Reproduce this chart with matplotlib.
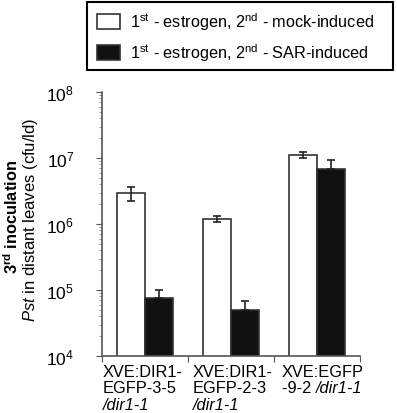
import numpy as np
import matplotlib
matplotlib.use("Agg")
import matplotlib.pyplot as plt
from matplotlib.patches import Patch, Rectangle

plt.rcParams['font.family'] = ['Liberation Sans', 'DejaVu Sans']
plt.rcParams['mathtext.fontset'] = 'custom'
plt.rcParams['mathtext.rm'] = 'Liberation Sans'
plt.rcParams['mathtext.it'] = 'Liberation Sans:italic'
plt.rcParams['mathtext.bf'] = 'Liberation Sans:bold'

# data (cfu/ld)
lines_ = ["XVE:DIR1-EGFP-3-5", "XVE:DIR1-EGFP-2-3", "XVE:EGFP-9-2"]
mock = [2.95e6, 1.19e6, 1.11e7]
mock_err = [0.7e6, 0.12e6, 1.2e6]
sar = [7.6e4, 5.0e4, 6.8e6]
sar_err = [2.4e4, 1.8e4, 2.5e6]
series_names = [r"1$^{\rm st}$ - estrogen, 2$^{\rm nd}$ - mock-induced",
                r"1$^{\rm st}$ - estrogen, 2$^{\rm nd}$ - SAR-induced"]

edge = "#333333"
fig = plt.figure(figsize=(3.97, 4.14), dpi=100)
ax = fig.add_axes([102/397, 57/414, 258/397, 264/414])

x = np.arange(len(lines_))
w = 0.33
ax.bar(x - w/2, mock, w, color="white", edgecolor=edge, linewidth=1.2, zorder=2)
ax.bar(x + w/2, sar, w, color="#111111", edgecolor=edge, linewidth=1.2, zorder=2)
ax.errorbar(x - w/2, mock, yerr=mock_err, fmt="none", ecolor="#222222",
            elinewidth=1.2, capsize=3, capthick=1.2, zorder=3)
ax.errorbar(x + w/2, sar, yerr=[np.zeros(3), sar_err], fmt="none", ecolor="#222222",
            elinewidth=1.2, capsize=3, capthick=1.2, zorder=3)

ax.set_yscale("log")
ax.set_ylim(1e4, 1e8)
ax.set_xlim(-0.5, 2.5)
ax.set_xticks([-0.5, 0.5, 1.5, 2.5])
ax.set_xticklabels([])

for s in ["top", "right"]:
    ax.spines[s].set_visible(False)
for s in ["left", "bottom"]:
    ax.spines[s].set_color("#555555")
    ax.spines[s].set_linewidth(1.2)
ax.tick_params(axis="y", which="major", length=4, color="#555555", labelsize=12.5, pad=16)
ax.tick_params(axis="y", which="minor", length=2, color="#888888")
ax.tick_params(axis="x", length=4, color="#555555")

# category labels, left aligned in each slot, one line at a time
fs = 11.8
xt = ax.get_xaxis_transform()
rows = [-20/264, -36/264, -53/264]
ax.text(-0.488, rows[0], "XVE:DIR1-", transform=xt, ha="left", va="baseline", fontsize=fs)
ax.text(-0.488, rows[1], "EGFP-3-5", transform=xt, ha="left", va="baseline", fontsize=fs)
ax.text(-0.488, rows[2], "/dir1-1", transform=xt, ha="left", va="baseline", fontsize=fs, style="italic")
ax.text(0.558, rows[0], "XVE:DIR1-", transform=xt, ha="left", va="baseline", fontsize=fs)
ax.text(0.558, rows[1], "EGFP-2-3", transform=xt, ha="left", va="baseline", fontsize=fs)
ax.text(0.558, rows[2], "/dir1-1", transform=xt, ha="left", va="baseline", fontsize=fs, style="italic")
ax.text(1.593, rows[0], "XVE:EGFP", transform=xt, ha="left", va="baseline", fontsize=fs)
t = ax.text(1.593, rows[1], "-9-2 ", transform=xt, ha="left", va="baseline", fontsize=fs)
ax.annotate("/dir1-1", xy=(1, 0), xycoords=t, ha="left", va="bottom",
            fontsize=fs, style="italic")

# y label, two lines
fig.text(12/397, 1 - 217/414, r"3$^{\bf rd}$ inoculation", rotation=90,
         ha="center", va="center", fontsize=11.8, fontweight="bold")
fig.text(30/397, 1 - 220/414, r"$\it{Pst}$ in distant leaves (cfu/ld)", rotation=90,
         ha="center", va="center", fontsize=12)

# legend: frameless, with a plain box drawn around it
handles = [Patch(facecolor="white", edgecolor=edge, linewidth=1.2),
           Patch(facecolor="#111111", edgecolor=edge, linewidth=1.2)]
leg = fig.legend(handles, series_names, loc="upper left",
                 bbox_to_anchor=(97/397, 1 - 11/414), fontsize=11.7,
                 frameon=False, handlelength=1.42, handleheight=1.05,
                 handletextpad=0.6, labelspacing=0.6, borderpad=0,
                 borderaxespad=0)
fig.add_artist(Rectangle((87/397, 1 - 71/414), 306/397, 68/414,
                         transform=fig.transFigure, fill=False,
                         edgecolor="black", linewidth=1.5))

fig.savefig("out.png", dpi=100)
